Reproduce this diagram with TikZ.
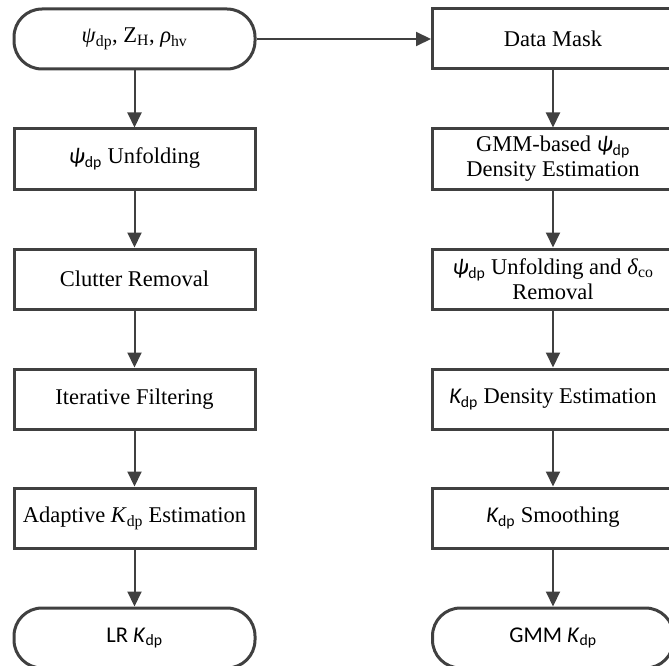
\documentclass[tikz,border=0pt]{standalone}
\usepackage{fontspec}
\setmainfont{Liberation Serif}
\setsansfont{Carlito}
\usetikzlibrary{arrows.meta}
\definecolor{linegray}{HTML}{404040}
\tikzset{procbox/.style={
        draw=linegray,line width=3pt,
        minimum width=241pt,minimum height=60pt,
        inner sep=0pt,align=center,
        font=\fontsize{22.5}{25}\selectfont
    },
    termbox/.style={procbox,rounded corners=28pt},
    flowarrow/.style={draw=linegray,line width=2pt,-{Triangle[length=15pt,width=14pt]}}
}
\newcommand{\dpsf}{\textsubscript{\sffamily dp}}

\begin{document}
\begin{tikzpicture}[x=1pt,y=-1pt]
      \useasboundingbox (0,0) rectangle (669,666);
      \clip (0,0) rectangle (669,666);
      \node[termbox] (input) at (134.5,39) {\textit{ψ}\textsubscript{dp}, Z\textsubscript{H}, \textit{ρ}\textsubscript{hv}};
      \node[procbox] (unfold) at (134.5,159) {{\sffamily\itshape ψ}\dpsf{} Unfolding};
      \node[procbox] (clutter) at (134.5,279) {Clutter Removal};
      \node[procbox] (iterfilt) at (134.5,399) {Iterative Filtering};
      \node[procbox] (adaptkdp) at (134.5,518) {Adaptive \textit{K}\textsubscript{dp} Estimation};
      \node[termbox] (lrkdp) at (134.5,638) {\sffamily LR \textit{K}\textsubscript{dp}};
      \node[procbox] (mask) at (553,39) {Data Mask};
      \node[procbox] (gmmdens) at (553,159) {GMM-based {\sffamily\itshape ψ}\dpsf\\Density Estimation};
      \node[procbox] (unfoldco) at (553,279) {{\sffamily\itshape ψ}\dpsf{} Unfolding and \textit{δ}\textsubscript{co}\\Removal};
      \node[procbox] (kdens) at (553,399) {{\sffamily\itshape K}\dpsf{} Density Estimation};
      \node[procbox] (smooth) at (553,518) {{\sffamily\itshape K}\dpsf{} Smoothing};
      \node[termbox] (gmmkdp) at (553,638) {\sffamily GMM \textit{K}\textsubscript{dp}};
      \draw[flowarrow] (input) -- (mask);
      \draw[flowarrow] (input) -- (unfold);
      \draw[flowarrow] (unfold) -- (clutter);
      \draw[flowarrow] (clutter) -- (iterfilt);
      \draw[flowarrow] (iterfilt) -- (adaptkdp);
      \draw[flowarrow] (adaptkdp) -- (lrkdp);
      \draw[flowarrow] (mask) -- (gmmdens);
      \draw[flowarrow] (gmmdens) -- (unfoldco);
      \draw[flowarrow] (unfoldco) -- (kdens);
      \draw[flowarrow] (kdens) -- (smooth);
      \draw[flowarrow] (smooth) -- (gmmkdp);
\end{tikzpicture}
\end{document}
